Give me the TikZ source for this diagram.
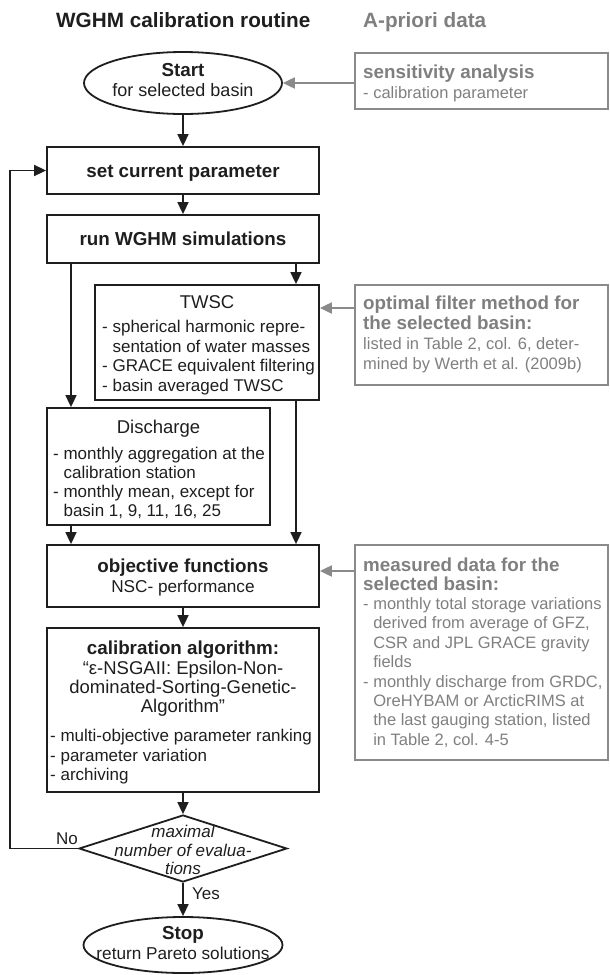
\documentclass[tikz,border=0pt]{standalone}
\usepackage{fontspec}
\setmainfont{Liberation Sans}
\usetikzlibrary{arrows.meta,shapes.geometric}
\definecolor{ink}{HTML}{1E1E1E}
\definecolor{gline}{HTML}{8A8A8A}
\definecolor{gtext}{HTML}{7F7F7F}
\newcommand\fT{\fontsize{20.7}{24}\selectfont\bfseries}
\newcommand\fH{\fontsize{18.8}{22}\selectfont\bfseries}
\newcommand\fR{\fontsize{18.5}{22}\selectfont}
\newcommand\fB{\fontsize{17}{20}\selectfont}
\newcommand\fG{\fontsize{16.5}{19.5}\selectfont}
\newcommand\fS{\fontsize{18}{21}\selectfont}
\newcommand\fP{\fontsize{17.2}{20}\selectfont}
\newcommand\fI{\fontsize{17}{20}\selectfont\itshape}
\begin{document}
\begin{tikzpicture}[x=1pt,y=-1pt,
  mbox/.style={draw=ink, line width=1.8pt, inner sep=0, rectangle},
  gbox/.style={draw=gline, line width=2pt, inner sep=0, rectangle},
  arr/.style={draw=ink, line width=1.6pt, -{Triangle[length=12pt,width=11pt]}},
  garr/.style={draw=gline, line width=2pt, -{Triangle[length=12pt,width=11pt]}},
  txt/.style={inner sep=0, text=ink},
  gtxt/.style={inner sep=0, text=gtext}]
\useasboundingbox (0,0) rectangle (610,975);

% headers
\node[txt, font=\fT, anchor=base west] (h1) at (56,27) {WGHM calibration routine};
\node[gtxt, font=\fT, anchor=base west] (h2) at (363,27) {A-priori data};

% main column shapes
\node[ellipse, draw=ink, line width=1.8pt, inner sep=0, minimum width=198, minimum height=62] (start) at (183,83) {};
\node[mbox, minimum width=272, minimum height=47] (set) at (183,170.5) {};
\node[mbox, minimum width=272, minimum height=48] (run) at (183,239) {};
\node[mbox, minimum width=224, minimum height=115] (twsc) at (207,342.5) {};
\node[mbox, minimum width=223, minimum height=117] (dis) at (158.5,466.5) {};
\node[mbox, minimum width=272, minimum height=62] (obj) at (183,576) {};
\node[mbox, minimum width=272, minimum height=164] (cal) at (183,710) {};
\node[diamond, draw=ink, line width=1.8pt, inner sep=0, minimum width=208, minimum height=67] (dia) at (183,848.5) {};
\node[ellipse, draw=ink, line width=1.8pt, inner sep=0, minimum width=199, minimum height=56] (stop) at (183,945) {};

% a-priori boxes
\node[gbox, minimum width=253, minimum height=56] (sens) at (481.5,81) {};
\node[gbox, minimum width=253, minimum height=100] (opt) at (481.5,335) {};
\node[gbox, minimum width=253, minimum height=215] (meas) at (481.5,652.5) {};

% helper coordinates
\coordinate (lx) at (71,0);
\coordinate (rx) at (296,0);
\coordinate (lp) at (10,0);
\coordinate (ya) at (0,308);
\coordinate (yb) at (0,571);

% connectors
\draw[arr] (start.south) -- (set.north);
\draw[arr] (set.south) -- (run.north);
\draw[arr] (lx |- run.south) -- (lx |- dis.north);
\draw[arr] (rx |- run.south) -- (rx |- twsc.north);
\draw[arr] (lx |- dis.south) -- (lx |- obj.north);
\draw[arr] (rx |- twsc.south) -- (rx |- obj.north);
\draw[arr] (obj.south) -- (cal.north);
\draw[arr] (cal.south) -- (dia.north);
\draw[arr] (dia.south) -- (stop.north);
\draw[arr] (dia.west) -- (lp |- dia.west) -- (lp |- set.west) -- (set.west);
\draw[garr] (sens.west |- start.east) -- (start.east);
\draw[garr] (opt.west |- ya) -- (twsc.east |- ya);
\draw[garr] (meas.west |- yb) -- (obj.east |- yb);

% texts in main column
\node[txt, font=\fH, anchor=base] (t-start) at (183,76.5) {Start};
\node[txt, font=\fS, anchor=base] (t-start2) at (183,96.5) {for selected basin};
\node[txt, font=\fH, anchor=base] (t-set) at (183,177) {set current parameter};
\node[txt, font=\fH, anchor=base] (t-run) at (183,245.5) {run WGHM simulations};

\node[txt, font=\fR, anchor=base] (t-twsc) at (207,308.5) {TWSC};
\foreach \t [count=\i] in {{- spherical harmonic repre-},{\hphantom{- }sentation of water masses},{- GRACE equivalent filtering},{- basin averaged TWSC}}
  \node[txt, font=\fB, anchor=base west] (tw\i) at (102,{332.5+19.5*(\i-1)}) {\t};

\node[txt, font=\fR, anchor=base] (t-dis) at (158.5,433) {Discharge};
\foreach \t [count=\i] in {{- monthly aggregation at the},{\hphantom{- }calibration station},{- monthly mean, except for},{\hphantom{- }basin 1, 9, 11, 16, 25}}
  \node[txt, font=\fB, anchor=base west] (di\i) at (53,{459.5+19*(\i-1)}) {\t};

\node[txt, font=\fH, anchor=base] (t-obj) at (183,572) {objective functions};
\node[txt, font=\fP, anchor=base] (t-obj2) at (183,592) {NSC- performance};

\node[txt, font=\fH, anchor=base] (t-cal) at (183,654) {calibration algorithm:};
\foreach \t [count=\i] in {{“ε-NSGAII: Epsilon-Non-},{dominated-Sorting-Genetic-},{Algorithm”}}
  \node[txt, font=\fR, anchor=base] (cq\i) at (183,{674+19*(\i-1)}) {\t};
\foreach \t [count=\i] in {{- multi-objective parameter ranking},{- parameter variation},{- archiving}}
  \node[txt, font=\fB, anchor=base west] (cl\i) at (50,{741.5+19.5*(\i-1)}) {\t};

\node[txt, font=\fI, anchor=base] (d1) at (183,837) {maximal};
\node[txt, font=\fI, anchor=base] (d2) at (183,856) {number of evalua-};
\node[txt, font=\fI, anchor=base] (d3) at (183,874) {tions};
\node[txt, font=\fB, anchor=base] (no) at (67,844.5) {No};
\node[txt, font=\fB, anchor=base] (yes) at (206,899.5) {Yes};

\node[txt, font=\fH, anchor=base] (t-stop) at (183,939.5) {Stop};
\node[txt, font=\fP, anchor=base] (t-stop2) at (183,959) {return Pareto solutions};

% texts in a-priori boxes
\node[gtxt, font=\fH, anchor=base west] (s1) at (363,78) {sensitivity analysis};
\node[gtxt, font=\fG, anchor=base west] (s2) at (363,98) {- calibration parameter};

\node[gtxt, font=\fH, anchor=base west] (o1) at (363,309) {optimal filter method for};
\node[gtxt, font=\fH, anchor=base west] (o2) at (363,329) {the selected basin:};
\node[gtxt, font=\fG, anchor=base west] (o3) at (363,349.5) {listed in Table 2, col. 6, deter-};
\node[gtxt, font=\fG, anchor=base west] (o4) at (363,369) {mined by Werth et al. (2009b)};

\node[gtxt, font=\fH, anchor=base west] (m1) at (363,571) {measured data for the};
\node[gtxt, font=\fH, anchor=base west] (m2) at (363,590.5) {selected basin:};
\foreach \t [count=\i] in {{- monthly total storage variations},{\hphantom{- }derived from average of GFZ,},{\hphantom{- }CSR and JPL GRACE gravity},{\hphantom{- }fields},{- monthly discharge from GRDC,},{\hphantom{- }OreHYBAM or ArcticRIMS at},{\hphantom{- }the last gauging station, listed},{\hphantom{- }in Table 2, col. 4-5}}
  \node[gtxt, font=\fG, anchor=base west] (ml\i) at (363,{609.5+19.4*(\i-1)}) {\t};
\end{tikzpicture}
\end{document}
